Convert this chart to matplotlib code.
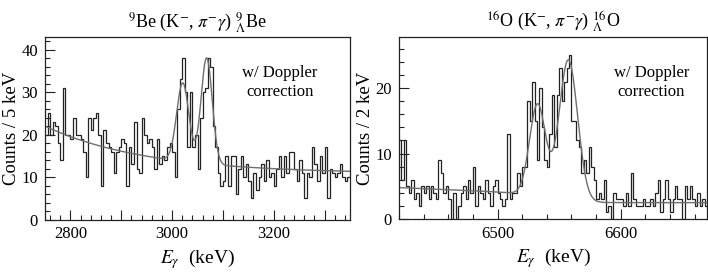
import numpy as np
import matplotlib
matplotlib.use("Agg")
import matplotlib.pyplot as plt
from matplotlib.ticker import MultipleLocator, FixedLocator

plt.rcParams['font.family'] = ['Liberation Serif', 'DejaVu Serif']
plt.rcParams['mathtext.fontset'] = 'stix'

# ---------------- data ----------------
# 9Be: 5 keV bins from 2750 to 3350 keV
be_edges_range = [2750, 3350]
be_bin = 5
be_counts = [
    20, 25, 20, 23, 22, 18, 14, 31, 20, 20,
    19, 24, 20, 20, 19, 16, 10, 24, 21, 24,
    25, 20, 8, 21, 18, 17, 16, 11, 16, 17,
    19, 18, 8, 17, 13, 23, 12, 11, 24, 20,
    18, 19, 17, 12, 19, 13, 15, 14, 17, 18,
    16, 10, 26, 33, 38, 30, 17, 30, 17, 20,
    12, 24, 30, 31, 38, 36, 22, 17, 11, 8,
    9, 15, 8, 15, 15, 6, 12, 15, 10, 13,
    9, 5, 11, 7, 10, 13, 9, 14, 10, 11,
    8, 12, 15, 10, 15, 11, 16, 16, 12, 9,
    14, 11, 5, 11, 10, 17, 13, 9, 15, 11,
    17, 5, 12, 11, 10, 11, 13, 10, 9, 10,
]
# fit parameters: background c + A*exp(-(E-E0)/tau), two gaussians (mu, amp, sigma)
be_bg = [10.8, 11.2, 2750, 200.0]
be_peaks = [(3021, 18.5, 12.0), (3068, 25.0, 11.0)]

# 16O: 2 keV bins from 6420 to 6670 keV
o_edges_range = [6420, 6670]
o_bin = 2
o_counts = [
    12, 6, 12, 5, 4, 6, 3, 4, 2, 5,
    4, 5, 3, 5, 4, 3, 9, 7, 4, 5,
    3, 0, 4, 0, 2, 4, 5, 3, 6, 4,
    8, 2, 5, 4, 3, 6, 4, 2, 5, 6,
    4, 3, 2, 3, 13, 3, 4, 4, 7, 5,
    8, 8, 18, 15, 21, 15, 9, 20, 14, 9,
    8, 13, 19, 11, 19, 23, 18, 21, 23, 25,
    15, 15, 12, 11, 7, 9, 7, 11, 8, 6,
    3, 4, 3, 6, 1, 2, 0, 4, 3, 3,
    3, 2, 4, 2, 7, 3, 2, 2, 2, 3,
    2, 2, 3, 2, 4, 6, 1, 3, 6, 3,
    1, 3, 5, 3, 3, 0, 5, 3, 5, 3,
    2, 4, 2, 3, 2,
]
# background: linear left part (a + b*(E-6420)) stepping smoothly to flat level
o_bg = [4.8, -0.008, 2.5, 6545.0, 12.0]
o_peaks = [(6532.5, 14.0, 6.5), (6557.5, 21.5, 7.5)]


def be_fit(E):
    c, A, E0, tau = be_bg
    y = c + A * np.exp(-(E - E0) / tau)
    for mu, amp, sig in be_peaks:
        y = y + amp * np.exp(-0.5 * ((E - mu) / sig) ** 2)
    return y


def o_fit(E):
    a, b, flat, Es, w = o_bg
    left = a + b * (E - o_edges_range[0])
    frac = 1.0 / (1.0 + np.exp(-(E - Es) / w))
    y = left * (1 - frac) + flat * frac
    for mu, amp, sig in o_peaks:
        y = y + amp * np.exp(-0.5 * ((E - mu) / sig) ** 2)
    return y


fig = plt.figure(figsize=(7.08, 2.72), dpi=100)
axL = fig.add_axes([45 / 708, 52.5 / 272, 305 / 708, 182.5 / 272])
axR = fig.add_axes([399 / 708, 53 / 272, 308 / 708, 182 / 272])

hist_color = '#222222'
fit_color = '#6e6e6e'

# left panel
be_edges = np.arange(be_edges_range[0], be_edges_range[1] + be_bin, be_bin)
axL.stairs(be_counts, be_edges, baseline=None, color=hist_color, lw=0.9)
E = np.linspace(be_edges_range[0], be_edges_range[1], 1200)
axL.plot(E, be_fit(E), color=fit_color, lw=1.0)
axL.set_xlim(*be_edges_range)
axL.set_ylim(0, 43)
axL.xaxis.set_minor_locator(MultipleLocator(20))
axL.set_xticks([2800, 2900, 3000, 3100, 3200, 3300])
axL.set_xticklabels(['2800', '', '3000', '', '3200', ''])
axL.yaxis.set_major_locator(MultipleLocator(10))
axL.yaxis.set_minor_locator(MultipleLocator(2))
axL.set_title(r'$^{9}$Be (K$^{-}$, $\pi^{-}\gamma$) $^{9}_{\Lambda}$Be', fontsize=13, pad=7)
axL.set_ylabel('Counts / 5 keV', fontsize=13.5, labelpad=1)
axL.set_xlabel(r'$E_{\gamma}$  (keV)', fontsize=14, labelpad=3)
axL.text(0.77, 0.75, 'w/ Doppler\ncorrection', transform=axL.transAxes,
         ha='center', va='center', fontsize=12, linespacing=1.3)

# right panel
o_edges = np.arange(o_edges_range[0], o_edges_range[1] + o_bin, o_bin)
axR.stairs(o_counts, o_edges, baseline=None, color=hist_color, lw=0.9)
E2 = np.linspace(o_edges_range[0], o_edges_range[1], 1200)
axR.plot(E2, o_fit(E2), color=fit_color, lw=1.0)
axR.set_xlim(*o_edges_range)
axR.set_ylim(0, 27.8)
axR.xaxis.set_major_locator(FixedLocator([6500, 6600]))
axR.xaxis.set_minor_locator(MultipleLocator(20))
axR.yaxis.set_major_locator(MultipleLocator(10))
axR.yaxis.set_minor_locator(MultipleLocator(2))
axR.set_title(r'$^{16}$O (K$^{-}$, $\pi^{-}\gamma$) $^{16}_{\Lambda}$O', fontsize=13, pad=7)
axR.set_ylabel('Counts / 2 keV', fontsize=13.5, labelpad=1)
axR.set_xlabel(r'$E_{\gamma}$  (keV)', fontsize=14, labelpad=3)
axR.text(0.82, 0.75, 'w/ Doppler\ncorrection', transform=axR.transAxes,
         ha='center', va='center', fontsize=12, linespacing=1.3)

for ax in (axL, axR):
    for s in ax.spines.values():
        s.set_linewidth(0.9)
        s.set_color('#222222')
    ax.tick_params(which='both', direction='in', top=False, right=False,
                   labelsize=12, color='#222222', width=0.8)
    ax.tick_params(which='major', length=7, pad=5)
    ax.tick_params(which='minor', length=3.5)

fig.savefig('out.png', dpi=100)
